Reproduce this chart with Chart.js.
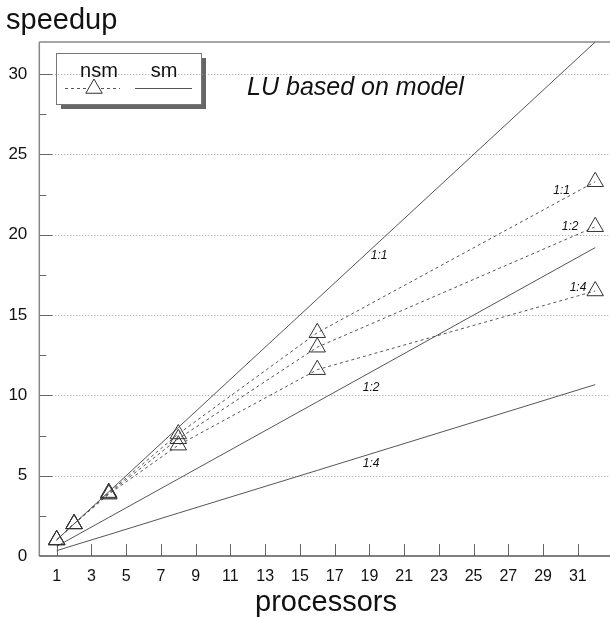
<!DOCTYPE html>
<html>
<head>
<meta charset="utf-8">
<script src="https://cdn.jsdelivr.net/npm/chart.js@4.4.0/dist/chart.umd.min.js"></script>
<style>
  html, body { margin: 0; padding: 0; background: #fff; overflow: hidden; }
  canvas { display: block; }
</style>
</head>
<body>
<canvas id="c" width="610" height="617"></canvas>
<script>
// Speedup of the LU factorisation (model), nsm vs sm, three ratios each
const processors = [1, 2, 4, 8, 16, 32];
const nsm11 = [1.0, 2.0, 3.95, 7.6, 13.9, 23.3];
const nsm12 = [1.0, 2.0, 3.9, 7.3, 13.0, 20.5];
const nsm14 = [1.0, 2.0, 3.85, 6.9, 11.6, 16.5];
const sm11 = [1, 2, 4, 8, 16, 32];
const sm12 = [0.6, 1.2, 2.4, 4.8, 9.6, 19.2];
const sm14 = [0.33, 0.67, 1.33, 2.67, 5.33, 10.67];

const xTicks = [1, 3, 5, 7, 9, 11, 13, 15, 17, 19, 21, 23, 25, 27, 29, 31];
const yTicks = [0, 5, 10, 15, 20, 25, 30];
const yMinorTicks = [2.5, 7.5, 12.5, 17.5, 22.5, 27.5];

const ratioLabels = ['1:1', '1:2', '1:4'];
// anchor points (data units) of the ratio tags
const nsmTagX = [30.07, 30.55, 31.01];
const nsmTagY = [22.77, 20.49, 16.73];
const smTagX = [19.56, 19.10, 19.10];
const smTagY = [18.72, 10.50, 5.74];

const FONT = '"Liberation Sans", Arial, Helvetica, sans-serif';

function pts(ys) { return processors.map((x, i) => ({ x: x, y: ys[i] })); }

function nsmSet(label, ys) {
  return {
    label: label, data: pts(ys),
    borderColor: '#555', borderWidth: 1, borderDash: [3, 3],
    pointStyle: 'triangle', pointRadius: 9.5, pointBorderWidth: 1,
    pointBorderColor: '#333', pointBackgroundColor: 'rgba(255,255,255,0)',
    tension: 0, fill: false, clip: false
  };
}
function smSet(label, ys) {
  return {
    label: label, data: pts(ys),
    borderColor: '#555', borderWidth: 1, pointRadius: 0,
    tension: 0, fill: false
  };
}

const frame = {
  id: 'frame',
  beforeDatasetsDraw(chart) {
    const ctx = chart.ctx, a = chart.chartArea;
    const xs = chart.scales.x, ys = chart.scales.y;
    ctx.save();

    // legend box with shadow
    ctx.fillStyle = '#666';
    ctx.fillRect(61, 58, 145, 51);
    ctx.fillStyle = '#fff';
    ctx.fillRect(56, 53, 145, 51);
    ctx.strokeStyle = '#777';
    ctx.lineWidth = 1;
    ctx.strokeRect(56.5, 53.5, 145, 51);

    // dotted grid and major y ticks
    yTicks.forEach(v => {
      if (v === 0) return;
      const py = Math.round(ys.getPixelForValue(v)) + 0.5;
      ctx.strokeStyle = '#999';
      ctx.lineWidth = 1;
      ctx.setLineDash([1, 2]);
      ctx.beginPath(); ctx.moveTo(a.left + 13, py); ctx.lineTo(a.right, py); ctx.stroke();
      ctx.setLineDash([]);
      ctx.strokeStyle = '#666';
      ctx.beginPath(); ctx.moveTo(a.left, py); ctx.lineTo(a.left + 13, py); ctx.stroke();
    });
    yMinorTicks.forEach(v => {
      const py = Math.round(ys.getPixelForValue(v)) + 0.5;
      ctx.strokeStyle = '#666';
      ctx.beginPath(); ctx.moveTo(a.left, py); ctx.lineTo(a.left + 7, py); ctx.stroke();
    });
    xTicks.forEach(v => {
      const px = Math.round(xs.getPixelForValue(v)) + 0.5;
      ctx.strokeStyle = '#666';
      ctx.beginPath(); ctx.moveTo(px, a.bottom); ctx.lineTo(px, a.bottom - 12); ctx.stroke();
    });

    // frame lines
    ctx.lineWidth = 1.5;
    ctx.strokeStyle = '#888';
    ctx.beginPath(); ctx.moveTo(a.left, a.top); ctx.lineTo(a.right, a.top); ctx.stroke();
    ctx.beginPath(); ctx.moveTo(a.left, a.top); ctx.lineTo(a.left, a.bottom); ctx.stroke();
    ctx.strokeStyle = '#555';
    ctx.beginPath(); ctx.moveTo(a.left, a.bottom); ctx.lineTo(a.right, a.bottom); ctx.stroke();

    // legend entries
    ctx.fillStyle = '#111';
    ctx.font = '20px ' + FONT;
    ctx.textAlign = 'center';
    ctx.textBaseline = 'middle';
    ctx.fillText('nsm', 99, 71);
    ctx.fillText('sm', 164, 71);
    ctx.lineWidth = 1;
    ctx.strokeStyle = '#555';
    ctx.setLineDash([3, 3]);
    ctx.beginPath(); ctx.moveTo(65, 88.5); ctx.lineTo(120, 88.5); ctx.stroke();
    ctx.setLineDash([]);
    ctx.beginPath(); ctx.moveTo(135, 88.5); ctx.lineTo(192, 88.5); ctx.stroke();
    ctx.fillStyle = '#fff';
    ctx.strokeStyle = '#333';
    const r = 9.5, cx = 94, cy = 88.5;
    ctx.beginPath();
    ctx.moveTo(cx, cy - r);
    ctx.lineTo(cx + r * Math.sin(2 * Math.PI / 3), cy - r * Math.cos(2 * Math.PI / 3));
    ctx.lineTo(cx + r * Math.sin(4 * Math.PI / 3), cy - r * Math.cos(4 * Math.PI / 3));
    ctx.closePath();
    ctx.fill(); ctx.stroke();
    ctx.restore();
  },
  afterDraw(chart) {
    const ctx = chart.ctx;
    const xs = chart.scales.x, ys = chart.scales.y;
    ctx.save();
    ctx.fillStyle = '#111';
    ctx.textAlign = 'center';
    ctx.textBaseline = 'middle';
    ctx.font = 'italic 12px ' + FONT;
    ratioLabels.forEach((t, i) => {
      ctx.fillText(t, xs.getPixelForValue(nsmTagX[i]), ys.getPixelForValue(nsmTagY[i]));
      ctx.fillText(t, xs.getPixelForValue(smTagX[i]), ys.getPixelForValue(smTagY[i]));
    });

    ctx.textBaseline = 'alphabetic';
    ctx.font = 'italic 25px ' + FONT;
    ctx.fillText('LU based on model', xs.getPixelForValue(18.2), ys.getPixelForValue(28.69));

    ctx.textAlign = 'left';
    ctx.font = '29px ' + FONT;
    ctx.fillText('speedup', 6, 29);

    ctx.textAlign = 'center';
    ctx.font = '29px ' + FONT;
    ctx.fillText('processors', 326, 611);
    ctx.restore();
  }
};

new Chart(document.getElementById('c'), {
  type: 'line',
  data: {
    datasets: [
      nsmSet('nsm 1:1', nsm11), nsmSet('nsm 1:2', nsm12), nsmSet('nsm 1:4', nsm14),
      smSet('sm 1:1', sm11), smSet('sm 1:2', sm12), smSet('sm 1:4', sm14)
    ]
  },
  options: {
    responsive: false,
    animation: false,
    layout: { autoPadding: false, padding: { top: 42, right: 0, left: 0, bottom: 0 } },
    plugins: { legend: { display: false }, tooltip: { enabled: false } },
    scales: {
      x: {
        type: 'linear', min: 0, max: 32.85,
        afterBuildTicks: s => { s.ticks = xTicks.map(v => ({ value: v })); },
        afterFit: s => { s.height = 61; s.paddingLeft = 0; s.paddingRight = 0; },
        grid: { display: false, drawTicks: false },
        border: { display: false },
        ticks: { font: { family: FONT, size: 16 }, color: '#111', padding: 11, maxRotation: 0, autoSkip: false }
      },
      y: {
        type: 'linear', min: 0, max: 32,
        afterBuildTicks: s => { s.ticks = yTicks.map(v => ({ value: v })); },
        afterFit: s => { s.width = 39.3; s.paddingTop = 0; s.paddingBottom = 0; },
        grid: { display: false, drawTicks: false },
        border: { display: false },
        ticks: { font: { family: FONT, size: 17 }, color: '#111', padding: 12 }
      }
    }
  },
  plugins: [frame]
});
</script>
</body>
</html>
